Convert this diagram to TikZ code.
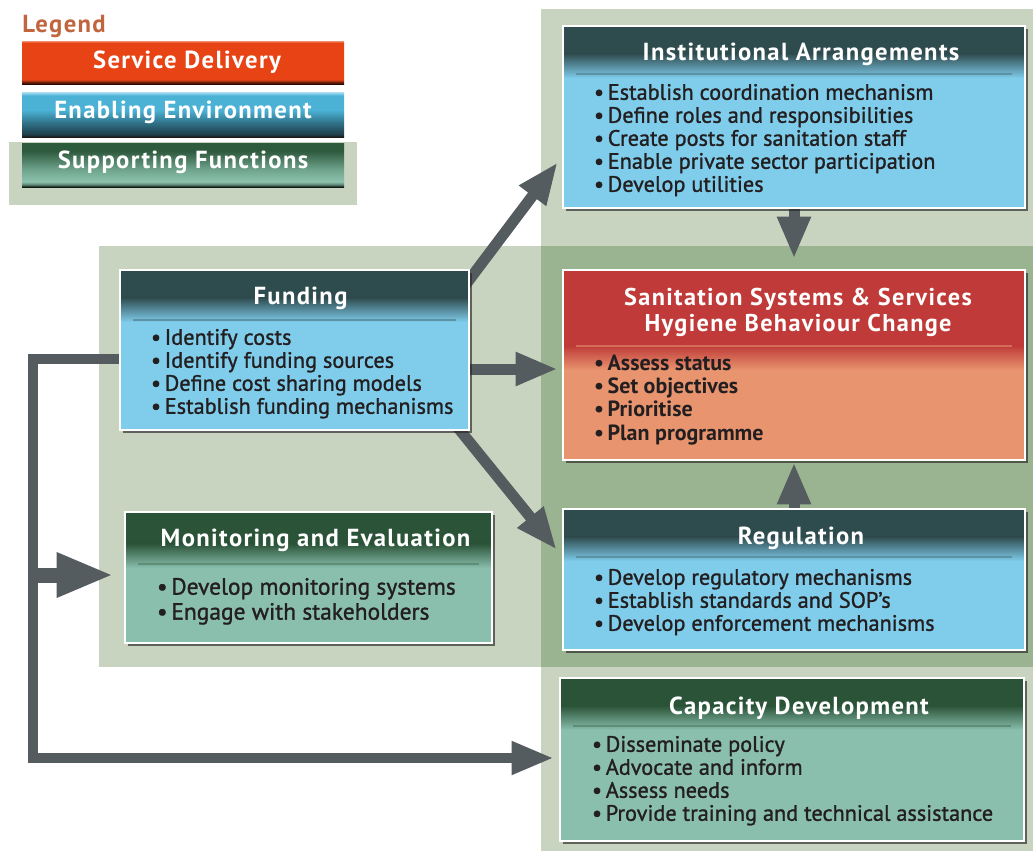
\documentclass[tikz,border=0pt]{standalone}
\usepackage{fontspec}
\setmainfont{PT Sans}
\newfontfamily\semifont{PT Sans}[FakeBold=1.2]
\newfontfamily\titlefont{PT Sans}[LetterSpace=5.5]
\usetikzlibrary{arrows.meta,shadows,fit,calc}
\definecolor{lgreen}{HTML}{C8D4BF}
\definecolor{dgreen}{HTML}{9AB390}
\definecolor{bluehead}{HTML}{2E4B4E}
\definecolor{bluebody}{HTML}{7FCCEB}
\definecolor{greenhead}{HTML}{2A5337}
\definecolor{greenbody}{HTML}{8ABFAE}
\definecolor{redhead}{HTML}{BF3A38}
\definecolor{redbody}{HTML}{E8946F}
\definecolor{arrowgray}{HTML}{545C60}
\definecolor{textdark}{HTML}{231F20}
\definecolor{legendtxt}{HTML}{C0653E}
\definecolor{svc}{HTML}{E84315}
\definecolor{svcdark}{HTML}{2A0800}
\definecolor{svclight}{HTML}{F29070}
\definecolor{HTMLcolA}{HTML}{1F3F4A}
\definecolor{HTMLcolB}{HTML}{2F6E85}
\definecolor{HTMLcolC}{HTML}{4BB2D6}
\definecolor{HTMLcolD}{HTML}{7CCBE8}
\definecolor{HTMLcolE}{HTML}{B0E0F2}
\definecolor{supA}{HTML}{0E1C15}
\definecolor{supB}{HTML}{8CC2AE}
\definecolor{supC}{HTML}{6FA48C}
\definecolor{supD}{HTML}{2E5A3E}
\pgfdeclareverticalshading{svcsh}{100bp}{color(0bp)=(svcdark); color(25bp)=(svcdark); color(28bp)=(svc!60!black); color(30bp)=(svc); color(73bp)=(svc); color(75bp)=(svclight); color(100bp)=(svclight)}
\pgfdeclareverticalshading{enabsh}{100bp}{color(0bp)=(black!90); color(25bp)=(black!90); color(28bp)=(HTMLcolA); color(40bp)=(HTMLcolB); color(55bp)=(HTMLcolC); color(71bp)=(HTMLcolC); color(73bp)=(HTMLcolD); color(75bp)=(HTMLcolE); color(100bp)=(HTMLcolE)}
\pgfdeclareverticalshading{supsh}{100bp}{color(0bp)=(supA); color(25bp)=(supA); color(28bp)=(supB!70!black); color(31bp)=(supB); color(45bp)=(supC); color(66bp)=(supD); color(75bp)=(supD); color(100bp)=(supD)}
\pgfdeclarelayer{bg}
\pgfdeclarelayer{arrowlayer}
\pgfsetlayers{bg,arrowlayer,main}
\newcommand\itm{•\kern2.8pt}
\tikzset{
  panel/.style={inner sep=0pt, drop shadow={shadow xshift=2.5pt, shadow yshift=-2.5pt, opacity=0.65, fill=black!85}},
  ptitle/.style={font=\titlefont\bfseries\fontsize{18.5}{19.5}\selectfont, text=white, inner sep=0pt},
  items/.style={font=\semifont\fontsize{16.7}{17.25}\selectfont, text=textdark, align=left, anchor=north west, inner sep=0pt},
  bitems/.style={items, font=\bfseries\fontsize{16.5}{17.4}\selectfont},
  arr/.style={draw=arrowgray, line width=8.25pt, -{Triangle[length=31.5pt,width=23.25pt]}},
  looparr/.style={draw=arrowgray, line width=7.5pt, line join=miter, -{Triangle[length=31.5pt,width=23.25pt]}},
  bigarr/.style={draw=arrowgray, line width=11.25pt, -{Triangle[length=42.75pt,width=30.75pt]}},
  legbox/.style={inner sep=0pt, shade},
  legtext/.style={font=\titlefont\bfseries\fontsize{18.5}{19}\selectfont, text=white, inner sep=0pt, anchor=base},
}
\newcommand\panelbox[9]{%
  \node[panel, fill=#7, fit={(#2,#3)(#4,#5)}] (#1) {};
  \fill[#6] (#2,#3) rectangle (#4,#3+#8);
  \shade[top color=#6, bottom color=#7] (#2,#3+#8-0.5) rectangle (#4,#3+#8+24);
  \draw[#6!45!#7, line width=1.5pt] (#2+13,#3+#9) -- (#4-13,#3+#9);
  \draw[white, line width=1.5pt] (#2,#3) rectangle (#4,#5);
}
\begin{document}
\begin{tikzpicture}[x=0.75pt, y=-0.75pt]
\useasboundingbox (0,0) rectangle (1033,851);
\begin{pgfonlayer}{bg}
  \fill[white] (0,0) rectangle (1033,851);
  \fill[lgreen] (541,9) rectangle (1033,851);
  \fill[lgreen] (99,246) rectangle (541,667);
  \fill[dgreen] (541,246) rectangle (1033,667);
  \fill[lgreen] (9,142) rectangle (357,205);
\end{pgfonlayer}

% Legend
\node[font=\titlefont\bfseries\fontsize{18.5}{19}\selectfont, text=legendtxt, anchor=base west, inner sep=0pt] (legend) at (22,32) {Legend};
\node[legbox, shading=svcsh, fit={(22,41)(344,84)}] (lsvc) {};
\node[legtext] (lsvcT) at ($(lsvc.north)+(4,28)$) {Service Delivery};
\node[legbox, shading=enabsh, fit={(22,92)(344,137)}] (lenab) {};
\node[legtext] (lenabT) at ($(lenab.north)+(0,27)$) {Enabling Environment};
\node[legbox, shading=supsh, fit={(22,143)(344,187)}] (lsup) {};
\node[legtext] (lsupT) at ($(lsup.north)+(0,26)$) {Supporting Functions};

% Panels
\panelbox{inst}{563}{26}{1025}{208}{bluehead}{bluebody}{28}{48}
\node[ptitle, anchor=base] (instT) at ($(inst.north)+(7,35)$) {Institutional Arrangements};
\node[items] (instL) at ($(inst.north west)+(31,58)$) {\itm Establish coordination mechanism\\\itm Define roles and responsibilities\\\itm Create posts for sanitation staff\\\itm Enable private sector participation\\\itm Develop utilities};

\panelbox{fund}{120}{270}{469}{430}{bluehead}{bluebody}{28}{50}
\node[ptitle, anchor=base] (fundT) at ($(fund.north)+(6,35)$) {Funding};
\node[items] (fundL) at ($(fund.north west)+(31,59)$) {\itm Identify costs\\\itm Identify funding sources\\\itm Define cost sharing models\\\itm Establish funding mechanisms};

\panelbox{san}{563}{270}{1025}{460}{redhead}{redbody}{76}{76}
\node[ptitle, align=center, anchor=north, font=\titlefont\bfseries\fontsize{18.2}{19.5}\selectfont] (sanT) at ($(san.north)+(4,18)$) {Sanitation Systems \& Services\\Hygiene Behaviour Change};
\node[bitems] (sanL) at ($(san.north west)+(31,85)$) {\itm Assess status\\\itm Set objectives\\\itm Prioritise\\\itm Plan programme};

\panelbox{reg}{563}{509}{1025}{650}{bluehead}{bluebody}{28}{48}
\node[ptitle, anchor=base] (regT) at ($(reg.north)+(7,36)$) {Regulation};
\node[items] (regL) at ($(reg.north west)+(31,60)$) {\itm Develop regulatory mechanisms\\\itm Establish standards and SOP’s\\\itm Develop enforcement mechanisms};

\panelbox{me}{125}{512}{492}{643}{greenhead}{greenbody}{32}{52}
\node[ptitle, anchor=base] (meT) at ($(me.north)+(7,35)$) {Monitoring and Evaluation};
\node[items, font=\semifont\fontsize{17.6}{18.75}\selectfont] (meL) at ($(me.north west)+(32,66)$) {\itm Develop monitoring systems\\\itm Engage with stakeholders};

\panelbox{cap}{560}{678}{1024}{841}{greenhead}{greenbody}{28}{48}
\node[ptitle, anchor=base] (capT) at ($(cap.north)+(7,37)$) {Capacity Development};
\node[items] (capL) at ($(cap.north west)+(32,58)$) {\itm Disseminate policy\\\itm Advocate and inform\\\itm Assess needs\\\itm Provide training and technical assistance};

% Connectors
\coordinate (corner) at (33,758);
\coordinate (branch) at (33,575);
\begin{pgfonlayer}{arrowlayer}
  \draw[arr] (inst.south) -- ($(san.north)+(0,-11)$);
  \draw[arr] (reg.north) -- ($(san.south)+(0,2)$);
  \draw[arr] ($(fund.east)+(0,19)$) -- ($(san.west)+(-5,4)$);
  \draw[arr] ($(fund.north east)+(-15,30)$) -- ($(inst.south west)+(-5,-46)$);
  \draw[arr] ($(fund.south east)+(-19,-12)$) -- ($(reg.north west)+(-6,41)$);
  \draw[looparr] ($(fund.west)+(0,9)$) -| (corner) -- ($(cap.west)+(-6,-1.5)$);
  \draw[bigarr] (branch) -- ($(me.west)+(-11,-2.5)$);
\end{pgfonlayer}
\end{tikzpicture}
\end{document}
